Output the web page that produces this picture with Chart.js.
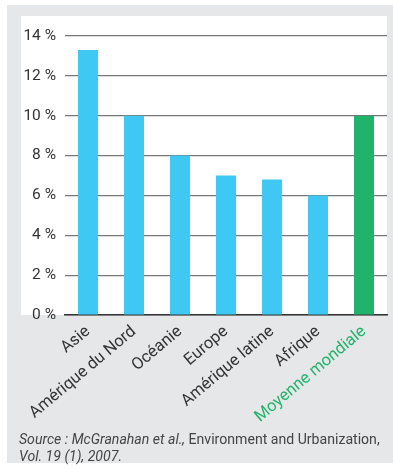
<!DOCTYPE html>
<html>
<head>
<meta charset="utf-8">
<script src="https://cdn.jsdelivr.net/npm/chart.js@4"></script>
<style>
    body { margin: 0; background: #fff; }
    #frame { position: absolute; left: 7px; top: 5px; width: 386px; height: 458px; background: #e6e7e8; }
    #panel { position: absolute; left: 21px; top: 16px; width: 366px; height: 299px; background: #fff; }
    #chart { position: absolute; left: 0; top: 0; }
    #source {
        position: absolute; left: 19px; top: 431px; width: 372px;
        font-family: "Roboto", sans-serif;
        font-size: 14.1px; line-height: 17px; color: #444;
        white-space: nowrap;
    }
    #source i { font-style: italic; }
</style>
</head>
<body>
<div id="frame"></div>
<div id="panel"></div>
<canvas id="chart" width="393" height="473"></canvas>
<div id="source"><i>Source : McGranahan et al.,</i> Environment and Urbanization,<br><i>Vol. 19 (1), 2007.</i></div>
<script>
const regions = ['Asie', 'Amérique du Nord', 'Océanie', 'Europe', 'Amérique latine', 'Afrique', 'Moyenne mondiale'];
const shares = [13.3, 10, 8, 7, 6.8, 6, 10];
const barColors = ['#40c8f4', '#40c8f4', '#40c8f4', '#40c8f4', '#40c8f4', '#40c8f4', '#21b36b'];
const labelColors = ['#333', '#333', '#333', '#333', '#333', '#333', '#21b36b'];

const fontFamily = '"Roboto", sans-serif';

const ctx = document.getElementById('chart').getContext('2d');
new Chart(ctx, {
    type: 'bar',
    data: {
        labels: regions,
        datasets: [{
            data: shares,
            backgroundColor: barColors,
            barPercentage: 0.435,
            categoryPercentage: 1
        }]
    },
    options: {
        responsive: false,
        animation: false,
        layout: { padding: { left: 0, top: 36, right: 6, bottom: 0 } },
        plugins: { legend: { display: false }, tooltip: { enabled: false } },
        scales: {
            x: {
                grid: { display: false, drawTicks: false },
                border: { display: true, color: '#333', width: 1.5 },
                ticks: {
                    minRotation: 40,
                    maxRotation: 40,
                    padding: 7,
                    color: ctx => labelColors[ctx.index],
                    font: { family: fontFamily, size: 16.5 }
                },
                afterFit: scale => { scale.height = 158; }
            },
            y: {
                min: 0,
                max: 14,
                ticks: {
                    stepSize: 2,
                    padding: 9,
                    color: '#333',
                    font: { family: fontFamily, size: 15.5 },
                    callback: v => v + ' %'
                },
                grid: { color: '#777', lineWidth: 1.2, drawTicks: false },
                border: { display: false },
                afterFit: scale => { scale.width = 65; }
            }
        }
    }
});
</script>
</body>
</html>
